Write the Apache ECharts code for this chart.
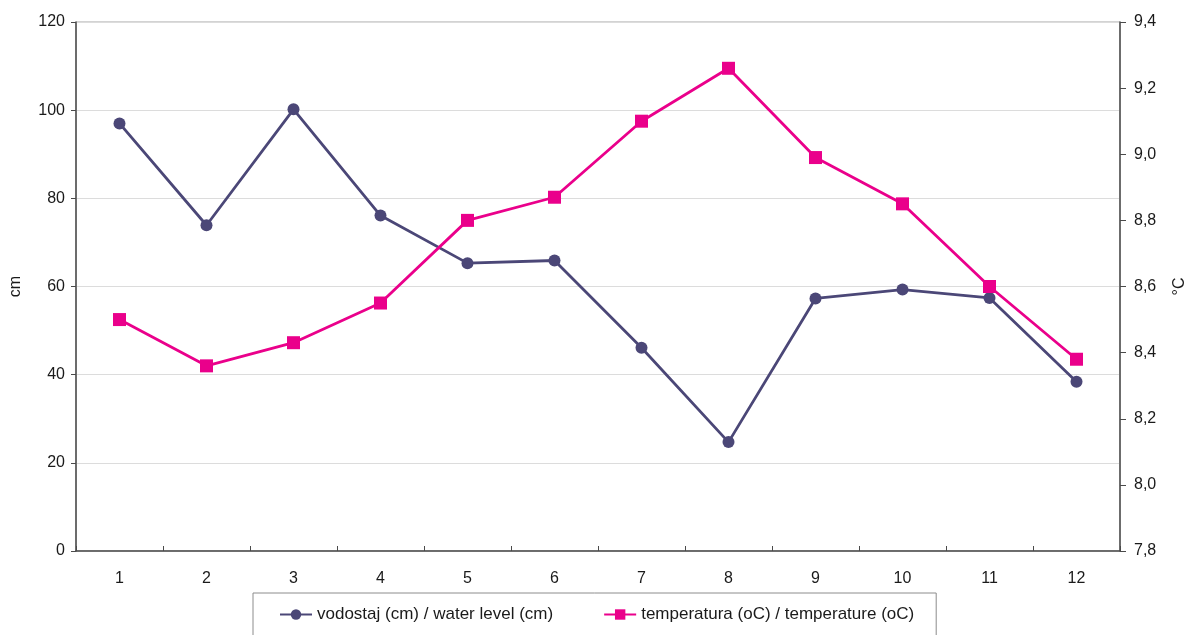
<!DOCTYPE html>
<html>
<head>
<meta charset="utf-8">
<script src="https://cdn.jsdelivr.net/npm/echarts@6/dist/echarts.min.js"></script>
<style>
  html, body { margin: 0; padding: 0; background: #fff; }
  #chart { width: 1184px; height: 635px; }
</style>
</head>
<body>
<div id="chart"></div>
<script>
// Months 1..12
const months = ['1', '2', '3', '4', '5', '6', '7', '8', '9', '10', '11', '12'];
// Water level, cm (left axis)
const waterLevel = [97.0, 73.9, 100.2, 76.1, 65.3, 65.9, 46.1, 24.7, 57.3, 59.3, 57.4, 38.4];
// Water temperature, °C (right axis)
const temperature = [8.50, 8.36, 8.43, 8.55, 8.80, 8.87, 9.10, 9.26, 8.99, 8.85, 8.60, 8.38];

const seriesNames = ['vodostaj (cm) / water level (cm)', 'temperatura (oC) / temperature (oC)'];

const FONT = 'Liberation Sans, Arial, sans-serif';
const AXIS_COLOR = '#4a4a4a';
const TEXT_COLOR = '#1a1a1a';

const chart = echarts.init(document.getElementById('chart'), null, { renderer: 'canvas' });

chart.setOption({
  backgroundColor: '#ffffff',
  animation: false,
  grid: {
    left: 76, right: 64, top: 22, bottom: 84,
    containLabel: false,
    outerBoundsMode: 'none',
    show: true, borderColor: '#a6a6a6', borderWidth: 1
  },
  legend: {
    data: seriesNames,
    left: 253,
    top: 593,
    padding: [13, 22, 20, 26],
    itemGap: 50,
    itemWidth: 32,
    itemHeight: 13,
    borderColor: '#8c8c8c',
    borderWidth: 1,
    textStyle: { fontFamily: FONT, fontSize: 17, color: TEXT_COLOR }
  },
  xAxis: {
    type: 'category',
    data: months,
    boundaryGap: true,
    axisLine: { lineStyle: { color: AXIS_COLOR, width: 1.5 } },
    axisTick: { show: true, inside: true, length: 5, alignWithLabel: false, lineStyle: { color: AXIS_COLOR } },
    axisLabel: { fontFamily: FONT, fontSize: 16, color: TEXT_COLOR, margin: 20 }
  },
  yAxis: [
    {
      type: 'value',
      min: 0, max: 120, interval: 20,
      name: 'cm',
      nameLocation: 'middle',
      nameGap: 52,
      nameRotate: 90,
      nameTextStyle: { fontFamily: FONT, fontSize: 16, color: TEXT_COLOR },
      axisLine: { show: true, lineStyle: { color: AXIS_COLOR, width: 1.5 } },
      axisTick: { show: true, length: 5, lineStyle: { color: AXIS_COLOR } },
      axisLabel: { fontFamily: FONT, fontSize: 16, color: TEXT_COLOR, margin: 11 },
      splitLine: { show: true, lineStyle: { color: '#dcdcdc', width: 1 } }
    },
    {
      type: 'value',
      min: 7.8, max: 9.4, interval: 0.2,
      name: '°C',
      nameLocation: 'middle',
      nameGap: 52,
      nameRotate: 90,
      nameTextStyle: { fontFamily: FONT, fontSize: 16, color: TEXT_COLOR },
      position: 'right',
      axisLine: { show: true, lineStyle: { color: AXIS_COLOR, width: 1.5 } },
      axisTick: { show: true, length: 6, lineStyle: { color: AXIS_COLOR } },
      axisLabel: {
        fontFamily: FONT, fontSize: 16, color: TEXT_COLOR, margin: 14,
        formatter: v => v.toFixed(1).replace('.', ',')
      },
      splitLine: { show: false }
    }
  ],
  series: [
    {
      name: seriesNames[0],
      type: 'line',
      yAxisIndex: 0,
      data: waterLevel,
      symbol: 'circle',
      symbolSize: 12,
      lineStyle: { color: '#4b4777', width: 2.8 },
      itemStyle: { color: '#4b4777' }
    },
    {
      name: seriesNames[1],
      type: 'line',
      yAxisIndex: 1,
      data: temperature,
      symbol: 'rect',
      symbolSize: 13,
      lineStyle: { color: '#ea008b', width: 2.8 },
      itemStyle: { color: '#ea008b' }
    }
  ]
});
</script>
</body>
</html>
